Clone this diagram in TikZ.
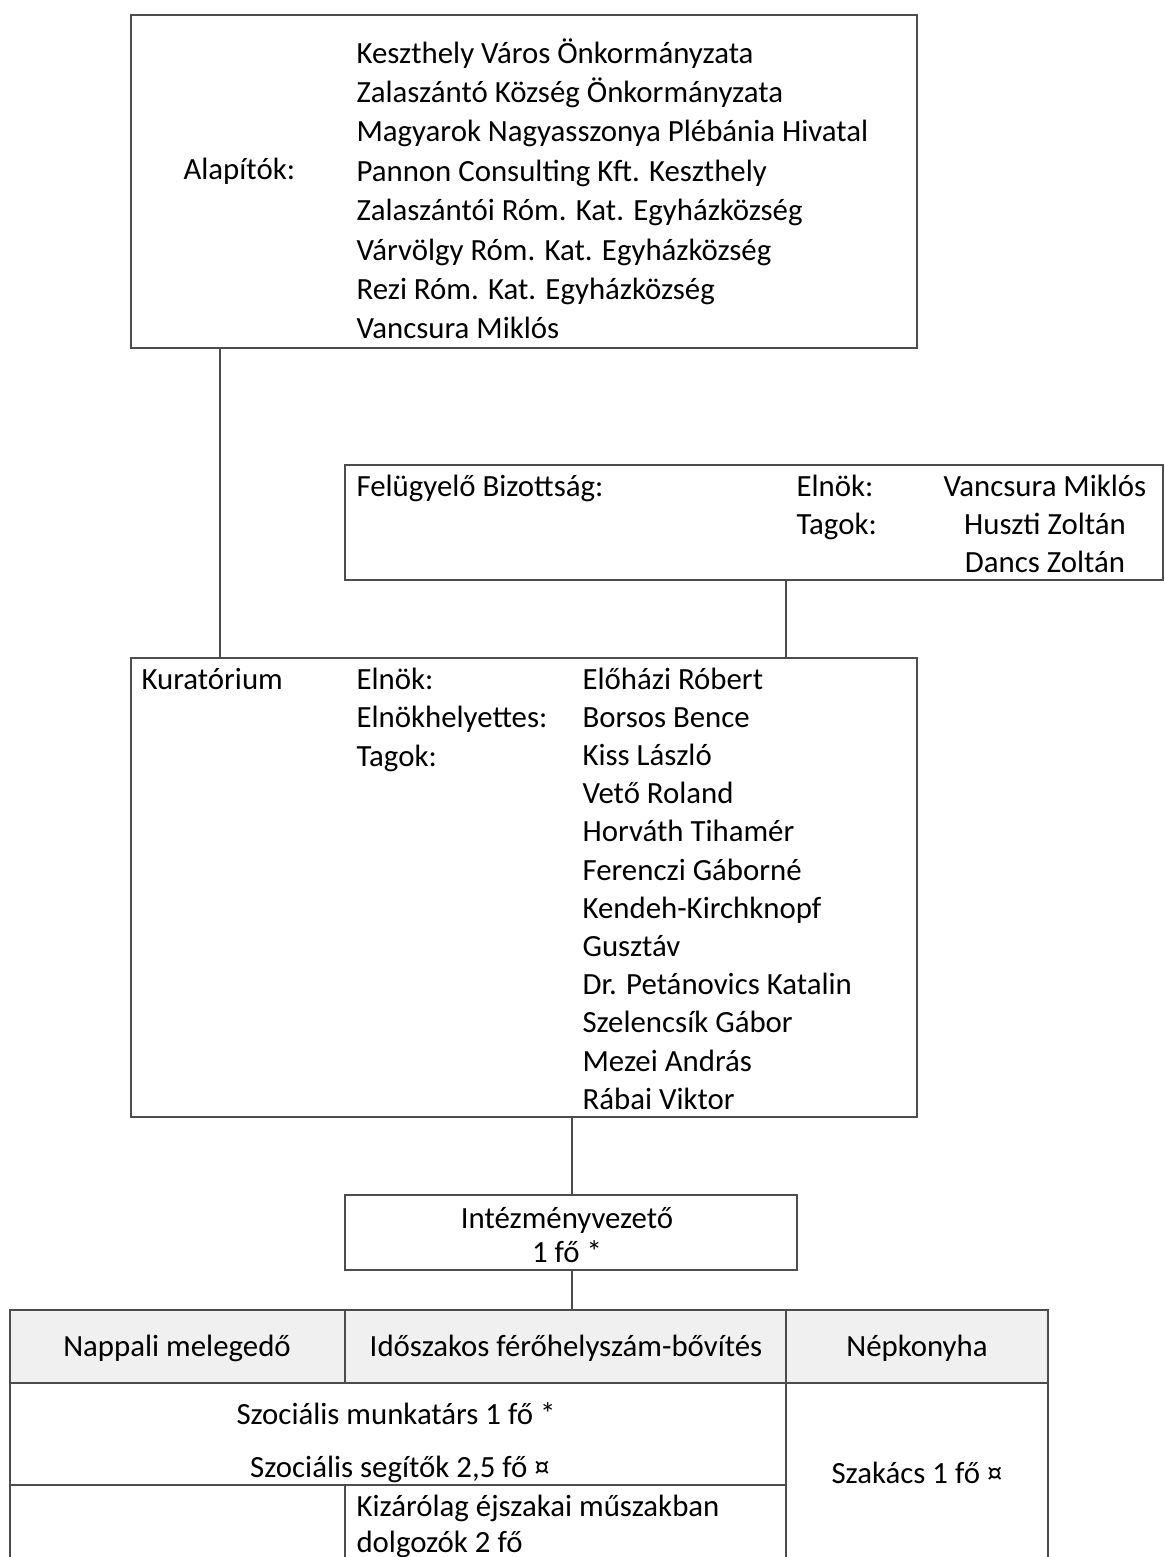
\documentclass[tikz,border=0pt]{standalone}
\usepackage{fontspec}
\setmainfont{Carlito}
\usetikzlibrary{positioning}
\newcommand{\pxu}{0.36pt}

\begin{document}
\begin{tikzpicture}[x=0.36pt,y=-0.36pt,
		box/.style={draw=black!70, line width=0.6pt, inner sep=0pt, outer sep=0pt, anchor=north west},
		headcell/.style={box, fill=black!6, minimum height=73*\pxu},
		txt/.style={inner sep=0pt, anchor=base west, font=\fontsize{11.1}{13}\selectfont},
		ctxt/.style={txt, anchor=base}]
	\useasboundingbox (0,0) rectangle (1165,1557);
	\begin{scope}[every node/.style={box}]
		\node[minimum width=786*\pxu, minimum height=333*\pxu] (alap) at (131,15) {};
		\node[minimum width=818*\pxu, minimum height=115*\pxu] (fb) at (345,465) {};
		\node[minimum width=786*\pxu, minimum height=459*\pxu] (kur) at (131,658) {};
		\node[minimum width=452*\pxu, minimum height=75*\pxu] (iv) at (345,1195) {};
		\node[headcell, minimum width=335*\pxu] (hNap) at (10,1310) {};
		\node[headcell, minimum width=441*\pxu] (hIdo) at (345,1310) {};
		\node[headcell, minimum width=262*\pxu] (hNep) at (786,1310) {};
		\node[minimum width=776*\pxu, minimum height=102*\pxu] (szoc) at (10,1383) {};
	\end{scope}
	\coordinate (c1) at (220,0);
	\coordinate (c2) at (786,0);
	\coordinate (c3) at (572,0);
	\coordinate (bot) at (0,1557);
	\begin{scope}[draw=black!70, line width=0.6pt]
		\draw (alap.south -| c1) -- (kur.north -| c1);
		\draw (fb.south -| c2) -- (kur.north -| c2);
		\draw (kur.south -| c3) -- (iv.north -| c3);
		\draw (iv.south -| c3) -- (hIdo.north -| c3);
		\draw (hNep.south west) -- (hNep.south west |- bot);
		\draw (hNep.south east) -- (hNep.south east |- bot);
		\draw (szoc.south west) -- (szoc.south west |- bot);
		\draw (hNap.south east |- szoc.south) -- (hNap.south east |- bot);
	\end{scope}
	\node[txt] (alapLbl) at (183,179) {Alapítók:};
	\foreach \name [count=\i from 0] in {Keszthely Város Önkormányzata,
			Zalaszántó Község Önkormányzata,
			Magyarok Nagyasszonya Plébánia Hivatal,
			Pannon Consulting Kft. Keszthely,
			Zalaszántói Róm. Kat. Egyházközség,
			Várvölgy Róm. Kat. Egyházközség,
			Rezi Róm. Kat. Egyházközség,
			Vancsura Miklós}
		\node[txt] (alap\i) at (356,63+39.4*\i) {\name};
	\node[txt] (fbLbl) at (356,496) {Felügyelő Bizottság:};
	\node[txt] (fbElnok) at (796,496) {Elnök:};
	\node[txt] (fbTagok) at (796,534) {Tagok:};
	\node[ctxt] (fb0) at (1045,496) {Vancsura Miklós};
	\node[ctxt] (fb1) at (1045,534) {Huszti Zoltán};
	\node[ctxt] (fb2) at (1045,572) {Dancs Zoltán};
	\node[txt] (kurLbl) at (141,689) {Kuratórium};
	\node[txt] (kurElnok) at (356,689) {Elnök:};
	\node[txt] (kurHely) at (356,727) {Elnökhelyettes:};
	\node[txt] (kurTagok) at (356,766) {Tagok:};
	\foreach \name [count=\i from 0] in {Előházi Róbert, Borsos Bence, Kiss László,
			Vető Roland, Horváth Tihamér, Ferenczi Gáborné, Kendeh-Kirchknopf,
			Gusztáv, Dr. Petánovics Katalin, Szelencsík Gábor, Mezei András,
			Rábai Viktor}
		\node[txt] (kur\i) at (582,689+38.2*\i) {\name};
	\node[ctxt] (iv0) at (567,1228) {Intézményvezető};
	\node[ctxt] (iv1) at (567,1262) {1 fő *};
	\node[ctxt] (hNapTxt) at (177,1356) {Nappali melegedő};
	\node[ctxt] (hIdoTxt) at (566,1356) {Időszakos férőhelyszám-bővítés};
	\node[ctxt] (hNepTxt) at (917,1356) {Népkonyha};
	\node[ctxt] (szoc0) at (396,1424) {Szociális munkatárs 1 fő *};
	\node[ctxt] (szoc1) at (400,1477) {Szociális segítők 2,5 fő ¤};
	\node[ctxt] (szak) at (917,1483) {Szakács 1 fő ¤};
	\node[txt] (ejj0) at (356,1516) {Kizárólag éjszakai műszakban};
	\node[txt] (ejj1) at (356,1552) {dolgozók 2 fő};
\end{tikzpicture}
\end{document}
